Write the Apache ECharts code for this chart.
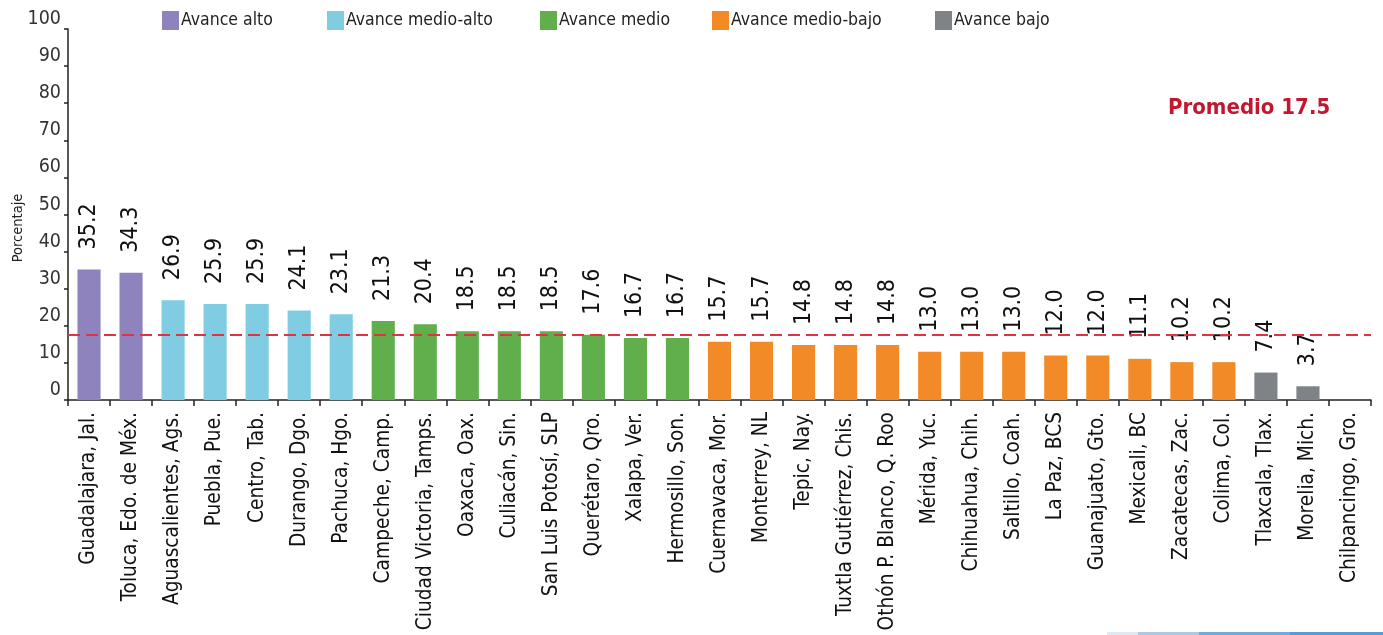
<!DOCTYPE html>
<html>
<head>
<meta charset="utf-8">
<style>
  html, body { margin: 0; padding: 0; background: #fff; }
  #chart { width: 1383px; height: 635px; }
</style>
<script src="https://cdn.jsdelivr.net/npm/echarts@6/dist/echarts.min.js"></script>
</head>
<body>
<div id="chart"></div>
<script>
const FONT = "'Liberation Sans Narrow', 'DejaVu Sans Condensed', sans-serif";

// ciudades, ordenadas como en la gráfica
const cities = [
  "Guadalajara, Jal.", "Toluca, Edo. de Méx.", "Aguascalientes, Ags.", "Puebla, Pue.",
  "Centro, Tab.", "Durango, Dgo.", "Pachuca, Hgo.", "Campeche, Camp.",
  "Ciudad Victoria, Tamps.", "Oaxaca, Oax.", "Culiacán, Sin.", "San Luis Potosí, SLP",
  "Querétaro, Qro.", "Xalapa, Ver.", "Hermosillo, Son.", "Cuernavaca, Mor.",
  "Monterrey, NL", "Tepic, Nay.", "Tuxtla Gutiérrez, Chis.", "Othón P. Blanco, Q. Roo",
  "Mérida, Yuc.", "Chihuahua, Chih.", "Saltillo, Coah.", "La Paz, BCS",
  "Guanajuato, Gto.", "Mexicali, BC", "Zacatecas, Zac.", "Colima, Col.",
  "Tlaxcala, Tlax.", "Morelia, Mich.", "Chilpancingo, Gro."
];
const values = [
  35.2, 34.3, 26.9, 25.9, 25.9, 24.1, 23.1, 21.3,
  20.4, 18.5, 18.5, 18.5, 17.6, 16.7, 16.7, 15.7,
  15.7, 14.8, 14.8, 14.8, 13.0, 13.0, 13.0, 12.0,
  12.0, 11.1, 10.2, 10.2, 7.4, 3.7, null
];
// índice de grupo de avance por ciudad
const groupOf = [
  0, 0, 1, 1, 1, 1, 1, 2,
  2, 2, 2, 2, 2, 2, 2, 3,
  3, 3, 3, 3, 3, 3, 3, 3,
  3, 3, 3, 3, 4, 4, 4
];
const groups = ["Avance alto", "Avance medio-alto", "Avance medio", "Avance medio-bajo", "Avance bajo"];
const groupColors = ["#8e83bc", "#80cde3", "#60ae4c", "#f18a27", "#7f8388"];
const legendLeft = [162, 327, 540, 712, 935];
const promedio = 17.5;
const yTicks = [0, 100, 10]; // min, max, intervalo

const chart = echarts.init(document.getElementById("chart"));

const series = groups.map(function (g, gi) {
  const s = {
    name: g,
    type: "bar",
    stack: "total",
    barWidth: "55%",
    itemStyle: { color: groupColors[gi] },
    label: {
      show: true,
      position: "top",
      rotate: 90,
      align: "left",
      verticalAlign: "middle",
      distance: 20,
      fontFamily: FONT,
      fontSize: 23,
      color: "#111",
      formatter: function (p) { return Number(p.value).toFixed(1); }
    },
    data: values.map(function (v, i) {
      return groupOf[i] === gi && v != null ? v : "-";
    })
  };
  if (gi === 0) {
    s.markLine = {
      silent: true,
      symbol: ["none", "none"],
      label: { show: false },
      lineStyle: { color: "#dd3344", type: [12, 6], width: 2 },
      data: [{ yAxis: promedio }]
    };
  }
  return s;
});

chart.setOption({
  backgroundColor: "#fff",
  animation: false,
  grid: { left: 68, right: 12, top: 29, bottom: 235, containLabel: false, outerBoundsMode: "none" },
  legend: groups.map(function (g, gi) {
    return {
      data: [g],
      left: legendLeft[gi],
      top: 11,
      padding: 0,
      icon: "rect",
      itemWidth: 17,
      itemHeight: 19,
      selectedMode: false,
      textStyle: { fontFamily: FONT, fontSize: 17.5, color: "#222", padding: [0, 0, 0, -3] }
    };
  }),
  xAxis: {
    type: "category",
    data: cities,
    axisLine: { lineStyle: { color: "#222", width: 1.5 } },
    axisTick: { show: true, interval: 0, length: 6, lineStyle: { color: "#222", width: 1.5 } },
    axisLabel: {
      interval: 0,
      rotate: 90,
      margin: 12,
      fontFamily: FONT,
      fontSize: 20.7,
      color: "#111"
    }
  },
  yAxis: {
    type: "value",
    min: yTicks[0],
    max: yTicks[1],
    interval: yTicks[2],
    axisLine: { show: true, lineStyle: { color: "#222", width: 1.5 } },
    axisTick: { show: true, length: 4, lineStyle: { color: "#222", width: 1.5 } },
    splitLine: { show: false },
    axisLabel: {
      margin: 7,
      verticalAlign: "bottom",
      fontFamily: FONT,
      fontSize: 19.5,
      color: "#333"
    }
  },
  graphic: [
    {
      // título del eje Y
      type: "text",
      x: 18,
      y: 228,
      rotation: Math.PI / 2,
      style: {
        text: "Porcentaje",
        font: "14.5px " + FONT,
        fill: "#222",
        align: "center",
        verticalAlign: "middle"
      }
    },
    {
      type: "text",
      left: 1168,
      top: 97,
      style: {
        text: "Promedio " + promedio,
        font: "bold 22px " + FONT,
        fill: "#c3172f"
      }
    },
    { type: "rect", shape: { x: 1107, y: 632, width: 31, height: 3 }, style: { fill: "#dde9f5" } },
    { type: "rect", shape: { x: 1138, y: 632, width: 61, height: 3 }, style: { fill: "#a9c9e6" } },
    { type: "rect", shape: { x: 1199, y: 632, width: 91, height: 3 }, style: { fill: "#74aadb" } },
    { type: "rect", shape: { x: 1290, y: 632, width: 93, height: 3 }, style: { fill: "#5b9bd5" } }
  ],
  series: series
});

window.addEventListener("resize", function () { chart.resize(); });
</script>
</body>
</html>
